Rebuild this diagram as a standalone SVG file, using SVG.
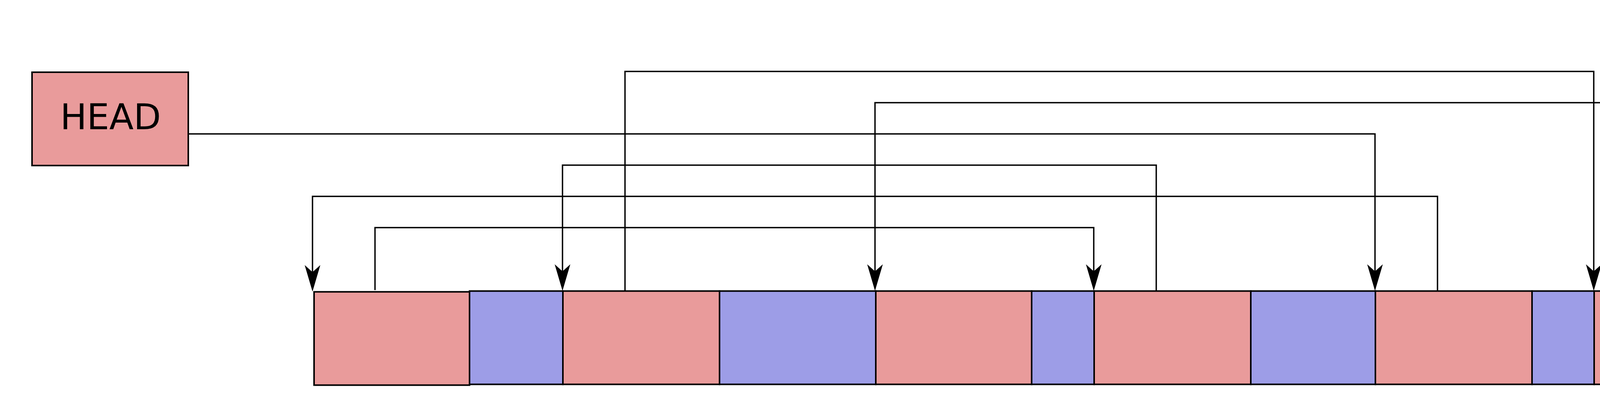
<svg xmlns="http://www.w3.org/2000/svg" width="4607" height="1063" viewBox="0 0 4607 1063">
  <style>
    .red { fill: #E99B9B; stroke: #000; stroke-width: 4; }
    .blue { fill: #9D9DE7; stroke: #000; stroke-width: 4; }
    .conn { fill: none; stroke: #000; stroke-width: 3.5; stroke-linejoin: miter; }
    .label { font-family: "DejaVu Sans", sans-serif; font-size: 91px; fill: #000; }
  </style>
  <defs>
    <marker id="arrow" markerUnits="userSpaceOnUse" viewBox="-40 -22 72 44" refX="0" refY="0" markerWidth="72" markerHeight="44" orient="auto">
      <path d="M30,0 L-38,-20 L-20,0 L-38,20 Z" fill="#000"/>
    </marker>
  </defs>
  <rect width="4607" height="1063" fill="#fff"/>

  <g id="head">
    <rect class="red" x="82" y="185" width="400" height="239"/>
    <text class="label" x="283" y="331" text-anchor="middle">HEAD</text>
  </g>

  <g id="blocks">
    <rect id="block1" class="red" x="804" y="747.5" width="398" height="239"/>
    <rect id="block2" class="blue" x="1202" y="745.5" width="239" height="239"/>
    <rect id="block3" class="red" x="1441" y="745.5" width="401" height="239"/>
    <rect id="block4" class="blue" x="1842" y="745.5" width="400" height="239"/>
    <rect id="block5" class="red" x="2242" y="745.5" width="399" height="239"/>
    <rect id="block6" class="blue" x="2641" y="745.5" width="160" height="239"/>
    <rect id="block7" class="red" x="2801" y="745.5" width="401" height="239"/>
    <rect id="block8" class="blue" x="3202" y="745.5" width="319" height="239"/>
    <rect id="block9" class="red" x="3521" y="745.5" width="401" height="239"/>
    <rect id="block10" class="blue" x="3922" y="745.5" width="159" height="239"/>
    <rect id="block11" class="red" x="4081" y="745.5" width="401" height="239"/>
    <rect id="block12" class="blue" x="4482" y="745.5" width="80" height="239"/>
  </g>

  <g id="connectors">
    <polyline class="conn" points="1600,745 1600,183 4080,183 4080,715" marker-end="url(#arrow)"/>
    <polyline class="conn" points="4240,745 4240,263 2240,263 2240,715" marker-end="url(#arrow)"/>
    <polyline class="conn" points="482,343 3520,343 3520,715" marker-end="url(#arrow)"/>
    <polyline class="conn" points="2960,745 2960,423 1440,423 1440,715" marker-end="url(#arrow)"/>
    <polyline class="conn" points="3680,745 3680,503 800,503 800,717" marker-end="url(#arrow)"/>
    <polyline class="conn" points="960,743 960,583 2800,583 2800,715" marker-end="url(#arrow)"/>
  </g>
</svg>
